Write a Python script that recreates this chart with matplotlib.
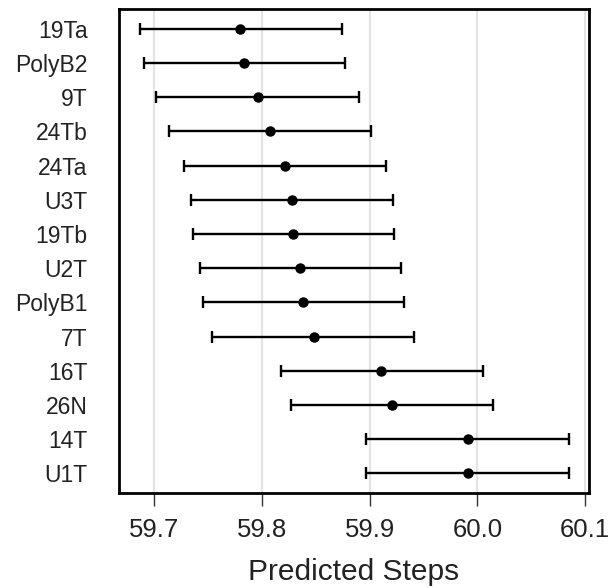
import matplotlib.pyplot as plt
import numpy as np

plt.rcParams["font.family"] = ["Liberation Sans", "DejaVu Sans"]

# categories from top to bottom
labels = ["19Ta", "PolyB2", "9T", "24Tb", "24Ta", "U3T", "19Tb",
          "U2T", "PolyB1", "7T", "16T", "26N", "14T", "U1T"]
estimate = [59.780, 59.783, 59.796, 59.807, 59.821, 59.828, 59.829,
            59.835, 59.838, 59.848, 59.911, 59.921, 59.991, 59.991]
lower = [59.687, 59.690, 59.702, 59.714, 59.728, 59.734, 59.736,
         59.742, 59.745, 59.754, 59.818, 59.827, 59.897, 59.897]
upper = [59.874, 59.877, 59.890, 59.901, 59.915, 59.922, 59.923,
         59.929, 59.932, 59.941, 60.005, 60.015, 60.085, 60.085]

est = np.array(estimate)
lo = np.array(lower)
hi = np.array(upper)
y = np.arange(len(labels))[::-1] + 1

fig = plt.figure(figsize=(6.12, 5.88), dpi=100)
ax = fig.add_axes([0.195, 0.161, 0.767, 0.824])

ax.errorbar(est, y, xerr=[est - lo, hi - est], fmt="o", color="black",
            ecolor="black", elinewidth=1.7, capsize=4, capthick=1.7,
            markersize=6.5, zorder=3)

ax.set_xlim(59.6675, 60.1035)
ax.set_ylim(0.42, len(labels) + 0.58)
ax.set_xticks([59.7, 59.8, 59.9, 60.0, 60.1])
ax.set_xticklabels(["59.7", "59.8", "59.9", "60.0", "60.1"])
ax.set_yticks(y)
ax.set_yticklabels(labels)

ax.xaxis.grid(True, color="#e3e3e3", linewidth=1.5)
ax.set_axisbelow(True)

ax.tick_params(axis="x", length=9.5, width=1, color="#333333", labelsize=18.5,
               pad=8, labelcolor="#222222")
ax.tick_params(axis="y", length=0, labelsize=16.5, pad=23, labelcolor="#222222")

for s in ax.spines.values():
    s.set_linewidth(2.0)
    s.set_color("black")

ax.set_xlabel("Predicted Steps", fontsize=21.5, labelpad=12, color="#222222")

fig.savefig("out.png", dpi=100)
